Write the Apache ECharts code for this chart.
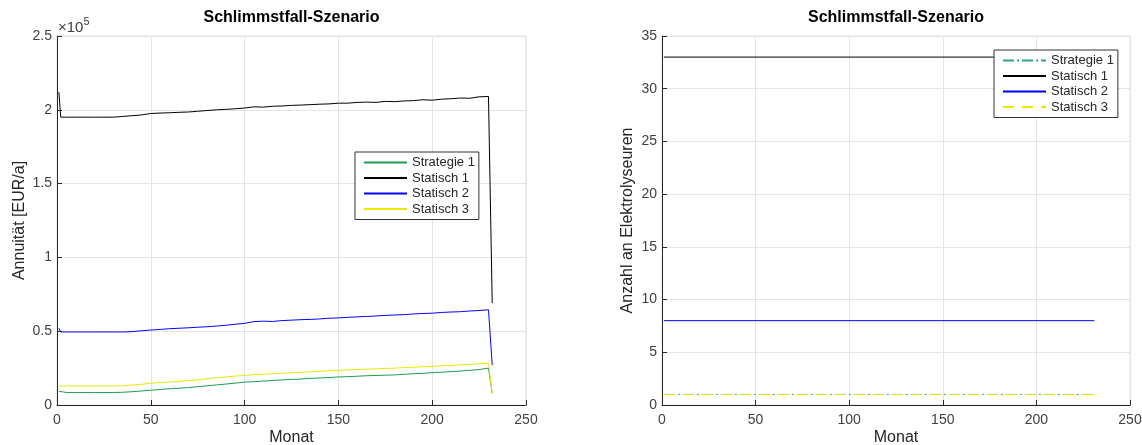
<!DOCTYPE html>
<html>
<head>
<meta charset="utf-8">
<script src="https://cdn.jsdelivr.net/npm/echarts@6/dist/echarts.min.js"></script>
<style>
    html, body { margin: 0; padding: 0; background: #fff; }
    #wrap { position: relative; width: 1142px; height: 445px; }
    #leftChart { position: absolute; left: 0; top: 0; width: 571px; height: 445px; }
    #rightChart { position: absolute; left: 571px; top: 0; width: 571px; height: 445px; }
</style>
</head>
<body>
<div id="wrap">
    <div id="leftChart"></div>
    <div id="rightChart"></div>
</div>
<script>
// Months (x values) sampled along the curves
const months = [1, 2, 5, 10, 15, 20, 25, 30, 35, 40, 45, 50, 55, 60, 65, 70, 75, 80, 85, 90,
    95, 100, 105, 110, 115, 120, 125, 130, 135, 140, 145, 150, 155, 160, 165, 170, 175, 180,
    185, 190, 195, 200, 205, 210, 215, 220, 225, 230, 231, 232];

// Annuität in units of 10^5 EUR/a
const strategie1 = [0.093, 0.085, 0.085, 0.085, 0.085, 0.085, 0.085, 0.085, 0.086, 0.090, 0.095, 0.100,
    0.105, 0.110, 0.114, 0.118, 0.124, 0.130, 0.136, 0.142, 0.148, 0.155, 0.158, 0.162, 0.166, 0.170,
    0.173, 0.176, 0.180, 0.183, 0.186, 0.190, 0.192, 0.195, 0.198, 0.200, 0.202, 0.204, 0.208, 0.212,
    0.215, 0.219, 0.222, 0.226, 0.230, 0.235, 0.240, 0.250, 0.248, 0.080];
const statisch1 = [2.12, 1.95, 1.95, 1.95, 1.95, 1.95, 1.95, 1.95, 1.955, 1.96, 1.965, 1.975,
    1.978, 1.98, 1.983, 1.985, 1.99, 1.995, 2.0, 2.003, 2.007, 2.012, 2.02, 2.018, 2.024, 2.026,
    2.03, 2.032, 2.035, 2.038, 2.04, 2.045, 2.045, 2.05, 2.052, 2.05, 2.057, 2.055, 2.06, 2.062,
    2.068, 2.065, 2.072, 2.075, 2.08, 2.078, 2.088, 2.09, 2.092, 0.69];
const statisch2 = [0.52, 0.495, 0.495, 0.495, 0.495, 0.495, 0.495, 0.495, 0.495, 0.497, 0.503, 0.508,
    0.512, 0.517, 0.52, 0.523, 0.527, 0.53, 0.535, 0.54, 0.547, 0.553, 0.565, 0.568, 0.566, 0.572,
    0.575, 0.578, 0.58, 0.583, 0.588, 0.59, 0.594, 0.597, 0.6, 0.603, 0.607, 0.61, 0.612, 0.617,
    0.62, 0.622, 0.627, 0.63, 0.632, 0.637, 0.64, 0.645, 0.64, 0.27];
const statisch3 = [0.129, 0.129, 0.129, 0.129, 0.129, 0.129, 0.129, 0.129, 0.13, 0.135, 0.14, 0.147,
    0.152, 0.156, 0.16, 0.165, 0.17, 0.178, 0.185, 0.19, 0.196, 0.2, 0.205, 0.208, 0.212, 0.215,
    0.218, 0.222, 0.225, 0.228, 0.232, 0.235, 0.238, 0.24, 0.243, 0.245, 0.248, 0.25, 0.253, 0.256,
    0.259, 0.262, 0.265, 0.268, 0.272, 0.275, 0.279, 0.285, 0.283, 0.08];

// Anzahl an Elektrolyseuren (constant over the horizon)
const countMonths = [1, 231];
const countStrategie1 = [1, 1];
const countStatisch1 = [33, 33];
const countStatisch2 = [8, 8];
const countStatisch3 = [1, 1];

const seriesNames = ['Strategie 1', 'Statisch 1', 'Statisch 2', 'Statisch 3'];
const xTicks = [0, 50, 100, 150, 200, 250];

const FONT = '"Liberation Sans", Arial, Helvetica, sans-serif';
const AXIS_COLOR = '#262626';
const GRID_COLOR = '#e4e4e4';

// line styles, one per series
const leftStyles = [
    { color: '#1e9a55', type: 'solid' },
    { color: '#000000', type: 'solid' },
    { color: '#0000ff', type: 'solid' },
    { color: '#e8e800', type: 'solid' }
];
const rightStyles = [
    { color: '#2fa58a', type: [11, 3, 2, 3] },
    { color: '#000000', type: 'solid' },
    { color: '#0000ff', type: 'solid' },
    { color: '#e8e800', type: [11, 8] }
];

const pairs = (xs, ys) => xs.map((x, i) => [x, ys[i]]);

const makeLine = (name, xs, ys, style) => ({
    name: name,
    type: 'line',
    data: pairs(xs, ys),
    symbol: 'none',
    animation: false,
    lineStyle: { color: style.color, width: 1, type: style.type },
    itemStyle: { color: style.color }
});

const baseAxis = {
    axisLine: { show: true, lineStyle: { color: AXIS_COLOR, width: 1 } },
    axisTick: { show: true, inside: true, length: 5, lineStyle: { color: AXIS_COLOR } },
    axisLabel: { color: '#404040', fontFamily: FONT, fontSize: 14 },
    splitLine: { show: true, lineStyle: { color: GRID_COLOR, width: 1 } },
    nameMoveOverlap: false,
    nameTextStyle: { color: AXIS_COLOR, fontFamily: FONT, fontSize: 16 }
};

const makeLegend = (left, top) => ({
    data: seriesNames,
    orient: 'vertical',
    left: left,
    top: top,
    itemWidth: 43,
    itemHeight: 13,
    itemGap: 2.5,
    padding: [4, 4, 4, 8],
    backgroundColor: '#fff',
    borderColor: '#333',
    borderWidth: 1,
    borderRadius: 0,
    selectedMode: false,
    // hide the symbol drawn in the middle of the line icon
    itemStyle: { opacity: 0 },
    textStyle: { color: AXIS_COLOR, fontFamily: FONT, fontSize: 13 }
});

const makeTitle = (centerX) => ({
    text: 'Schlimmstfall-Szenario',
    left: centerX,
    textAlign: 'center',
    top: 10,
    padding: 0,
    textStyle: { color: '#000', fontFamily: FONT, fontSize: 16, fontWeight: 'bold' }
});

// Left chart: Annuität
const leftChart = echarts.init(document.getElementById('leftChart'));
leftChart.setOption({
    animation: false,
    title: makeTitle(291.5),
    legend: makeLegend(355, 152),
    grid: {
        left: 57, right: 45, top: 36, bottom: 40,
        outerBoundsMode: 'none',
        show: true, borderColor: GRID_COLOR, borderWidth: 1
    },
    xAxis: Object.assign({}, baseAxis, {
        type: 'value', min: xTicks[0], max: xTicks[xTicks.length - 1], interval: 50,
        name: 'Monat', nameLocation: 'middle', nameGap: 25,
        axisLabel: Object.assign({}, baseAxis.axisLabel, { margin: 8 })
    }),
    yAxis: Object.assign({}, baseAxis, {
        type: 'value', min: 0, max: 2.5, interval: 0.5,
        name: 'Annuität [EUR/a]', nameLocation: 'middle', nameGap: 29,
        axisLabel: Object.assign({}, baseAxis.axisLabel, { margin: 5 })
    }),
    graphic: [{
        type: 'text',
        left: 58,
        top: 16,
        style: {
            text: '{a|×10}{b|5}',
            rich: {
                a: { fontFamily: FONT, fontSize: 15, fill: '#404040', padding: [6, 0, 0, 0] },
                b: { fontFamily: FONT, fontSize: 11, fill: '#404040', padding: [0, 0, 7, 0] }
            }
        }
    }],
    series: [
        makeLine(seriesNames[0], months, strategie1, leftStyles[0]),
        makeLine(seriesNames[1], months, statisch1, leftStyles[1]),
        makeLine(seriesNames[2], months, statisch2, leftStyles[2]),
        makeLine(seriesNames[3], months, statisch3, leftStyles[3])
    ]
});

// Right chart: Anzahl an Elektrolyseuren
const rightChart = echarts.init(document.getElementById('rightChart'));
rightChart.setOption({
    animation: false,
    title: makeTitle(91 + 234),
    legend: makeLegend(423, 50),
    grid: {
        left: 91, right: 12, top: 36, bottom: 40,
        outerBoundsMode: 'none',
        show: true, borderColor: GRID_COLOR, borderWidth: 1
    },
    xAxis: Object.assign({}, baseAxis, {
        type: 'value', min: xTicks[0], max: xTicks[xTicks.length - 1], interval: 50,
        name: 'Monat', nameLocation: 'middle', nameGap: 25,
        axisLabel: Object.assign({}, baseAxis.axisLabel, { margin: 8 })
    }),
    yAxis: Object.assign({}, baseAxis, {
        type: 'value', min: 0, max: 35, interval: 5,
        name: 'Anzahl an Elektrolyseuren', nameLocation: 'middle', nameGap: 26,
        axisLabel: Object.assign({}, baseAxis.axisLabel, { margin: 5 })
    }),
    series: [
        makeLine(seriesNames[0], countMonths, countStrategie1, rightStyles[0]),
        makeLine(seriesNames[1], countMonths, countStatisch1, rightStyles[1]),
        makeLine(seriesNames[2], countMonths, countStatisch2, rightStyles[2]),
        makeLine(seriesNames[3], countMonths, countStatisch3, rightStyles[3])
    ]
});
</script>
</body>
</html>
